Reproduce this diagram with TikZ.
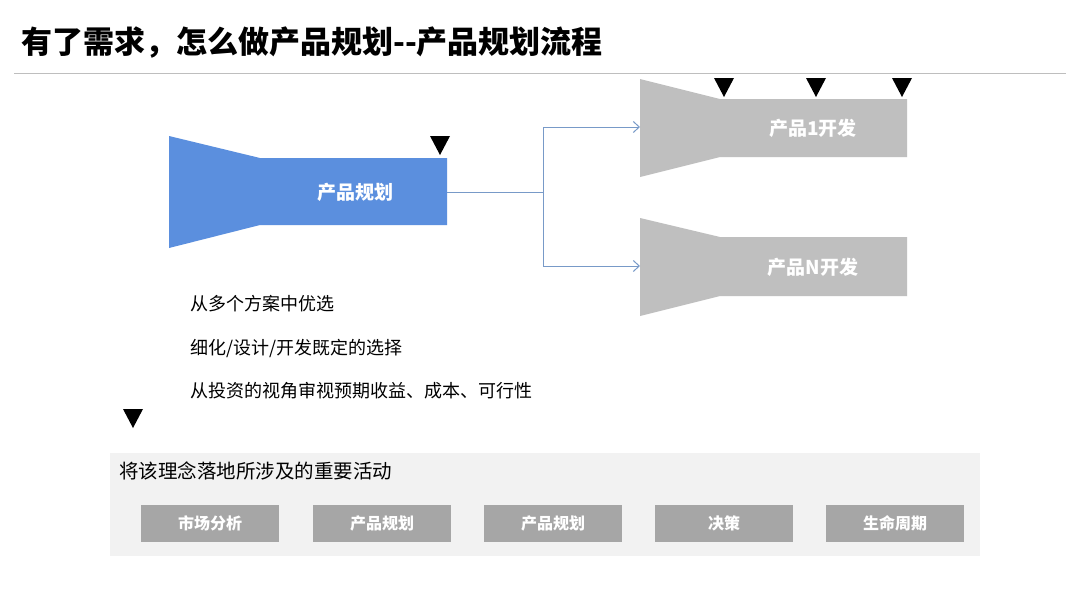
\documentclass[tikz,border=0pt]{standalone}
\usepackage{fontspec}
\setmainfont{Noto Sans CJK SC}
\usetikzlibrary{arrows.meta}
\definecolor{planblue}{RGB}{91,143,222}
\definecolor{devgray}{RGB}{191,191,191}
\definecolor{linkblue}{RGB}{120,154,200}
\definecolor{panelgray}{RGB}{242,242,242}
\definecolor{actgray}{RGB}{166,166,166}
\definecolor{rulegray}{RGB}{190,190,190}
\tikzset{
  downtri/.pic={\fill[black] (-10,0) -- (10,0) -- (0,19) -- cycle;},
  funneltext/.style={text=white, font=\bfseries\fontsize{19}{22}\selectfont, inner sep=0, minimum height=20},
  listtext/.style={anchor=west, inner sep=0, font=\fontsize{18}{21}\selectfont},
  actbox/.style={fill=actgray, minimum width=138, minimum height=37, inner sep=0, text=white, font=\bfseries\fontsize{16}{19}\selectfont},
  link/.style={draw=linkblue, line width=1pt},
  linkarrow/.style={link, -{Straight Barb[length=6pt,width=11pt,line width=1pt]}}
}
\begin{document}
\begin{tikzpicture}[x=1pt,y=-1pt]
\useasboundingbox (0,0) rectangle (1080,608);
\fill[white] (0,0) rectangle (1080,608);
% title
\node[anchor=west, inner sep=0, font=\bfseries\fontsize{31}{36}\selectfont] (title) at (21,43) {有了需求，怎么做产品规划-{}-产品规划流程};
\draw[rulegray, line width=1pt] (14,73) -- (1066,73);
% blue funnel
\fill[planblue] (169,136) -- (260,158) -- (447,158) -- (447,225) -- (260,225) -- (169,248) -- cycle;
\node[funneltext] (plan) at (355,192) {产品规划};
\coordinate (planout) at (447,192);
\pic at (440,136) {downtri};
% gray funnels
\fill[devgray] (640,79) -- (720,99) -- (907,99) -- (907,157) -- (720,157) -- (640,177) -- cycle;
\node[funneltext] (dev1) at (813,128) {产品1开发};
\coordinate (dev1in) at (640,127);
\pic at (724,78) {downtri};
\pic at (816,78) {downtri};
\pic at (902,78) {downtri};
\fill[devgray] (640,218) -- (720,237) -- (907,237) -- (907,296) -- (720,296) -- (640,316) -- cycle;
\node[funneltext] (devn) at (813,267) {产品N开发};
\coordinate (devnin) at (640,266);
% connectors
\coordinate (split) at (543,192);
\draw[link] (planout) -- (split);
\draw[linkarrow] (split) |- (dev1in);
\draw[linkarrow] (split) |- (devnin);
% list
\node[listtext] (l1) at (190,304) {从多个方案中优选};
\node[listtext] (l2) at (190,348) {细化/设计/开发既定的选择};
\node[listtext] (l3) at (190,391) {从投资的视角审视预期收益、成本、可行性};
\pic at (133,409) {downtri};
% panel
\fill[panelgray] (110,453) rectangle (980,556);
\node[anchor=west, inner sep=0, font=\fontsize{19.5}{23}\selectfont] (ptitle) at (119,471) {将该理念落地所涉及的重要活动};
\node[actbox] (a1) at (210,523.5) {市场分析};
\node[actbox] (a2) at (382,523.5) {产品规划};
\node[actbox] (a3) at (553,523.5) {产品规划};
\node[actbox] (a4) at (724,523.5) {决策};
\node[actbox] (a5) at (895,523.5) {生命周期};
\end{tikzpicture}
\end{document}
